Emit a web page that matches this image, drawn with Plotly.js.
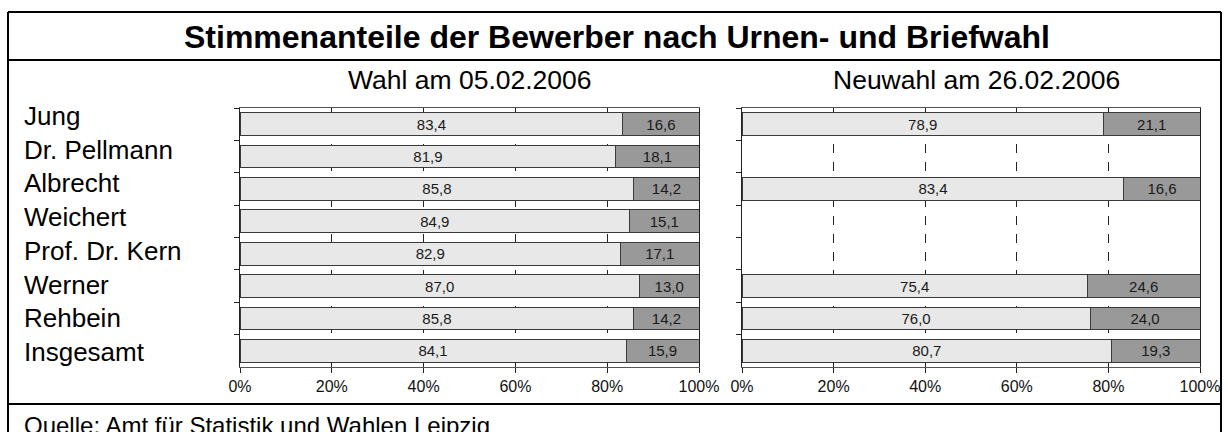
<!DOCTYPE html>
<html>
<head>
<meta charset="utf-8">
<script src="https://cdn.plot.ly/plotly-3.0.1.min.js"></script>
<style>
  body { margin: 0; background: #fff; }
  #chart { width: 1228px; height: 432px; }
</style>
</head>
<body>
<div id="chart"></div>
<script>
// Stimmenanteile Urnen- / Briefwahl, Leipzig 2006
const candidates = ['Jung', 'Dr. Pellmann', 'Albrecht', 'Weichert', 'Prof. Dr. Kern', 'Werner', 'Rehbein', 'Insgesamt'];
const urne1 = [83.4, 81.9, 85.8, 84.9, 82.9, 87.0, 85.8, 84.1];
const brief1 = [16.6, 18.1, 14.2, 15.1, 17.1, 13.0, 14.2, 15.9];
const urne2 = [78.9, null, 83.4, null, null, 75.4, 76.0, 80.7];
const brief2 = [21.1, null, 16.6, null, null, 24.6, 24.0, 19.3];

const W = 1228, H = 432;
const M = { l: 240, r: 28, t: 108, b: 65 };
const pw = W - M.l - M.r, ph = H - M.t - M.b;
const px = (x) => (x - M.l) / pw;
const py = (y) => (H - M.b - y) / ph;

const FONT = "Arial, 'Liberation Sans', sans-serif";
const LIGHT = '#e8e8e8', DARK = '#999999', EDGE = '#3a3a3a';

function barTrace(vals, color, xa, ya) {
  return {
    type: 'bar', orientation: 'h',
    y: candidates, x: vals,
    xaxis: xa, yaxis: ya,
    marker: { color: color, line: { color: EDGE, width: 1 } },
    texttemplate: '%{x:.1f}', textposition: 'inside', insidetextanchor: 'middle',
    textfont: { family: FONT, size: 15, color: '#1a1a1a' },
    constraintext: 'none',
    hoverinfo: 'skip', showlegend: false
  };
}

const traces = [
  barTrace(urne1, LIGHT, 'x', 'y'),
  barTrace(brief1, DARK, 'x', 'y'),
  barTrace(urne2, LIGHT, 'x2', 'y2'),
  barTrace(brief2, DARK, 'x2', 'y2')
];

const xBase = {
  range: [0, 100], dtick: 20, ticksuffix: '%',
  showgrid: true, gridcolor: '#222', gridwidth: 1, griddash: 'dash',
  ticks: 'outside', ticklen: 5, tickcolor: '#222',
  showline: true, linecolor: '#555', mirror: true,
  tickfont: { family: FONT, size: 16, color: '#111' },
  zeroline: false, fixedrange: true
};
const yBase = {
  type: 'category', autorange: 'reversed', tickson: 'boundaries',
  ticks: 'outside', ticklen: 5, tickcolor: '#222',
  showticklabels: false, showgrid: false,
  showline: true, linecolor: '#222', mirror: true, fixedrange: true
};

const line = (x0, y0, x1, y1) => ({
  type: 'line', xref: 'paper', yref: 'paper',
  x0: px(x0), y0: py(y0), x1: px(x1), y1: py(y1),
  line: { color: '#000', width: 2 }
});

const shapes = [
  line(8, 12, 1221, 12),
  line(8, 60, 1221, 60),
  line(8, 404, 1221, 404),
  line(8, 12, 8, 440),
  line(1221, 12, 1221, 440)
];

const txt = (text, x, y, size, anchor, bold) => ({
  xref: 'paper', yref: 'paper', x: px(x), y: py(y),
  xanchor: anchor, yanchor: 'middle', showarrow: false,
  text: bold ? '<b>' + text + '</b>' : text,
  font: { family: FONT, size: size, color: '#000' }
});

const annotations = [
  txt('Stimmenanteile der Bewerber nach Urnen- und Briefwahl', 617, 37, 32, 'center', true),
  txt('Wahl am 05.02.2006', 470, 80, 26.5, 'center'),
  txt('Neuwahl am 26.02.2006', 976, 80, 26.5, 'center'),
  txt('Quelle: Amt für Statistik und Wahlen Leipzig', 22, 425, 24, 'left')
];
candidates.forEach((c, i) => annotations.push(txt(c, 22, 116 + 33.7 * i, 26, 'left')));

const layout = {
  width: W, height: H, margin: M,
  paper_bgcolor: '#fff', plot_bgcolor: '#fff',
  barmode: 'stack', bargap: 0.3,
  separators: ',.',
  font: { family: FONT },
  xaxis: Object.assign({}, xBase, { domain: [0, px(699)], anchor: 'y' }),
  xaxis2: Object.assign({}, xBase, { domain: [px(742), 1], anchor: 'y2' }),
  yaxis: Object.assign({}, yBase, { anchor: 'x' }),
  yaxis2: Object.assign({}, yBase, { anchor: 'x2' }),
  shapes: shapes,
  annotations: annotations
};

Plotly.newPlot('chart', traces, layout, { displayModeBar: false, staticPlot: true });
</script>
</body>
</html>
